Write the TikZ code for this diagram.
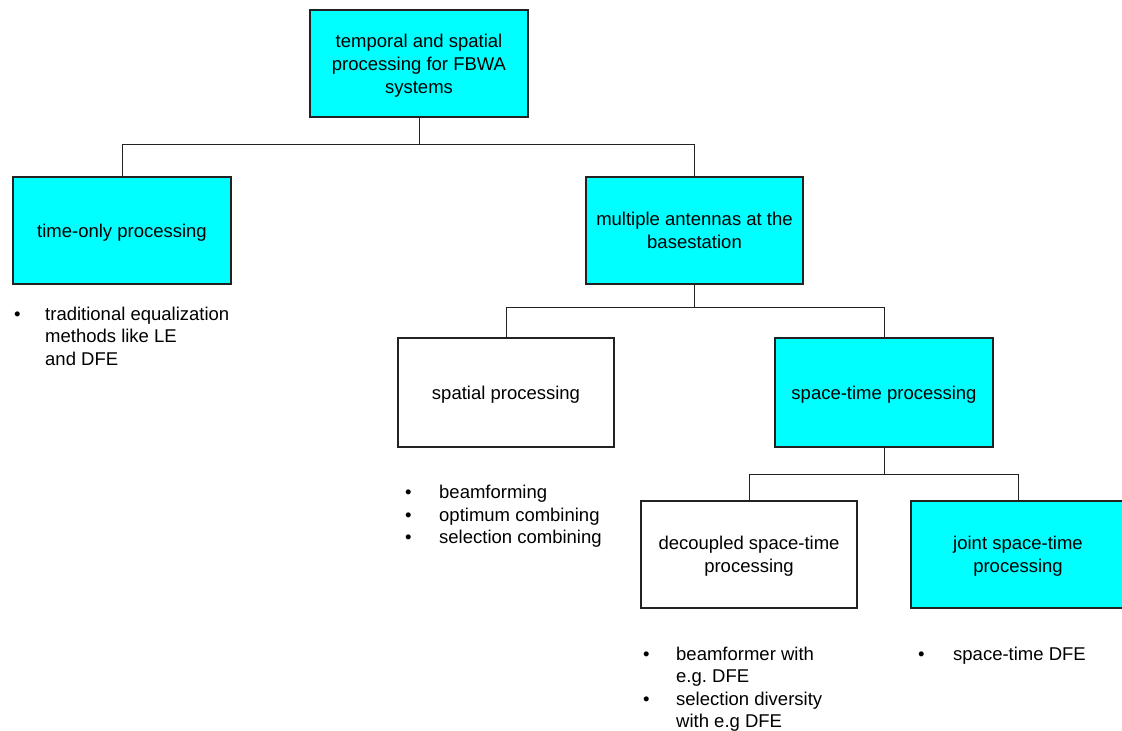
\documentclass[tikz,border=0pt]{standalone}
\usepackage{fontspec}
\setmainfont{Liberation Sans}
\frenchspacing
\definecolor{boxcyan}{HTML}{00FFFF}
\definecolor{linegray}{HTML}{222222}
\begin{document}
\begin{tikzpicture}[x=1pt,y=-1pt,
  box/.style={draw=linegray, line width=1.3pt, minimum width=218pt, minimum height=107pt,
    align=center, inner sep=0pt, text depth=0pt, font=\fontsize{18.5}{23}\selectfont},
  cyanbox/.style={box, fill=boxcyan},
  whitebox/.style={box, fill=white},
  conn/.style={draw=linegray, line width=1pt},
  item/.style={anchor=base west, inner sep=0pt, font=\fontsize{18.5}{23}\selectfont},
]
\useasboundingbox (0,0) rectangle (1122,731);
% boxes
\node[cyanbox] (top) at (419,63.5) {temporal and spatial\\processing for FBWA\\systems};
\node[cyanbox] (time) at (122,230.5) {time-only processing};
\node[cyanbox, minimum width=217pt] (multi) at (694.5,230.5) {multiple antennas at the\\basestation};
\node[whitebox, minimum width=216pt, minimum height=109pt] (spatial) at (506,392.5) {spatial processing};
\node[cyanbox, minimum height=109pt] (st) at (884,392.5) {space-time processing};
\node[whitebox, minimum width=216pt] (dec) at (749,554.5) {decoupled space-time\\processing};
\node[cyanbox, minimum width=214pt] (joint) at (1018,554.5) {joint space-time\\processing};
% connectors
\coordinate (b1) at (419,144);
\coordinate (b2) at (694.5,307);
\coordinate (b3) at (884,474);
\draw[conn] (top.south) -- (b1);
\draw[conn] (b1) -| (time.north);
\draw[conn] (b1) -| (multi.north);
\draw[conn] (multi.south) -- (b2);
\draw[conn] (b2) -| (spatial.north);
\draw[conn] (b2) -| (st.north);
\draw[conn] (st.south) -- (b3);
\draw[conn] (b3) -| (dec.north);
\draw[conn] (b3) -| (joint.north);
% bullet lists
\node[item] (t1b) at (14,320) {•};
\node[item] (t1a) at (45,320) {traditional equalization};
\node[item] (t1c) at (45,342.5) {methods like LE};
\node[item] (t1d) at (45,365) {and DFE};
\node[item] (s1b) at (405,498.5) {•};
\node[item] (s1) at (439,498.5) {beamforming};
\node[item] (s2b) at (405,521) {•};
\node[item] (s2) at (439,521) {optimum combining};
\node[item] (s3b) at (405,543.5) {•};
\node[item] (s3) at (439,543.5) {selection combining};
\node[item] (d1b) at (643,660) {•};
\node[item] (d1) at (676,660) {beamformer with};
\node[item] (d1c) at (676,682.5) {e.g. DFE};
\node[item] (d2b) at (643,705) {•};
\node[item] (d2) at (676,705) {selection diversity};
\node[item] (d2c) at (676,727) {with e.g DFE};
\node[item] (j1b) at (918,660) {•};
\node[item] (j1) at (953,660) {space-time DFE};
\end{tikzpicture}
\end{document}
